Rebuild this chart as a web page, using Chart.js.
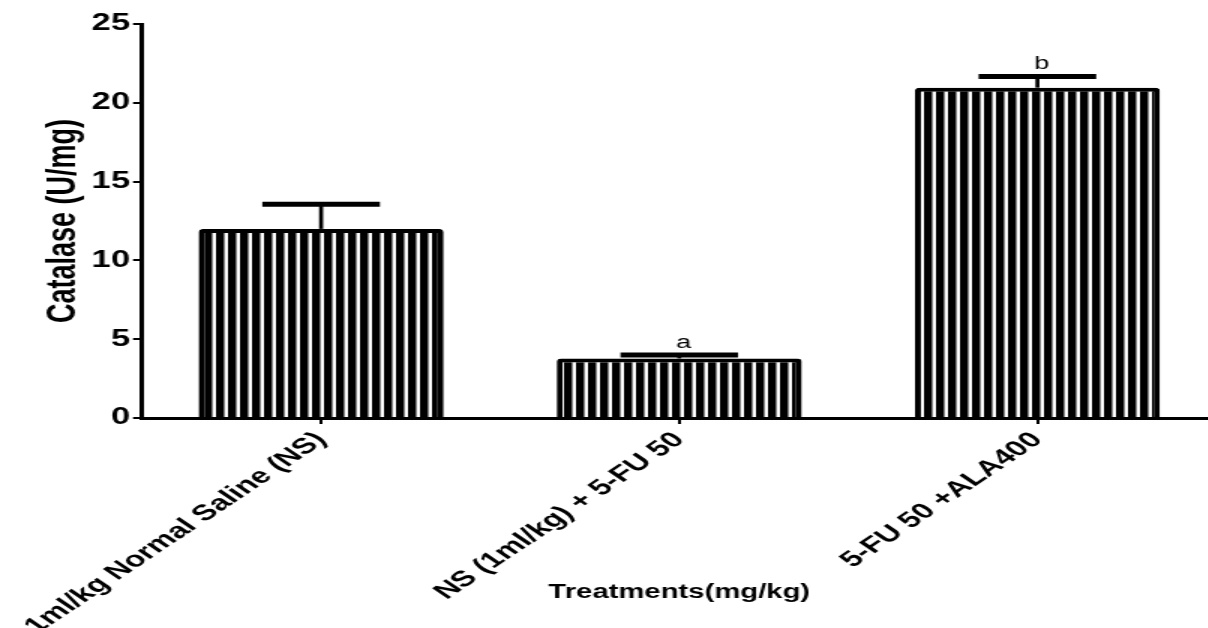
<!DOCTYPE html>
<html>
<head>
<meta charset="utf-8">
<script src="https://cdn.jsdelivr.net/npm/chart.js@4"></script>
<style>
  html, body { margin: 0; padding: 0; background: #fff; overflow: hidden; }
  #wrap { width: 811px; height: 628px; transform: scaleX(1.5); transform-origin: 0 0; }
</style>
</head>
<body>
<div id="wrap"><canvas id="chart" width="811" height="628"></canvas></div>
<script>
// data
var groups = ['1ml/kg Normal Saline (NS)', 'NS (1ml/kg) + 5-FU 50', '5-FU 50 +ALA400'];
var catalase = [12.0, 3.78, 20.96];
var sem = [1.57, 0.22, 0.71];
var letters = ['', 'a', 'b'];
var yTicks = [0, 5, 10, 15, 20, 25];

var FONT = "'Liberation Sans', Arial, sans-serif";

// vertical stripe fill
function stripes() {
    var c = document.createElement('canvas');
    c.width = 8;
    c.height = 4;
    var g = c.getContext('2d');
    g.fillStyle = '#000';
    g.fillRect(0, 0, 8, 4);
    g.fillStyle = '#fff';
    g.fillRect(5.5, 0, 2.5, 4);
    return g.createPattern(c, 'repeat');
}

var errorBars = {
    id: 'errorBars',
    afterDatasetsDraw: function (chart) {
        var ctx = chart.ctx;
        var meta = chart.getDatasetMeta(0);
        var y = chart.scales.y;
        ctx.save();
        ctx.strokeStyle = '#000';
        ctx.fillStyle = '#000';
        meta.data.forEach(function (bar, i) {
            var top = y.getPixelForValue(catalase[i] + sem[i]);
            var half = bar.width * 0.24;
            ctx.lineWidth = 2.7;
            ctx.beginPath();
            ctx.moveTo(bar.x, bar.y);
            ctx.lineTo(bar.x, top);
            ctx.stroke();
            ctx.lineWidth = 5;
            ctx.beginPath();
            ctx.moveTo(bar.x - half, top);
            ctx.lineTo(bar.x + half, top);
            ctx.stroke();
            if (letters[i]) {
                ctx.font = '18px ' + FONT;
                ctx.textAlign = 'center';
                ctx.textBaseline = 'bottom';
                ctx.fillText(letters[i], bar.x + 3, top - 3);
            }
        });
        ctx.restore();
    }
};

var ctx = document.getElementById('chart').getContext('2d');
var chart = new Chart(ctx, {
    type: 'bar',
    data: {
        labels: groups,
        datasets: [{
            data: catalase,
            backgroundColor: stripes(),
            borderColor: '#000',
            borderWidth: 4,
            borderRadius: { topLeft: 3, topRight: 3 },
            barPercentage: 0.684,
            categoryPercentage: 1
        }]
    },
    options: {
        responsive: false,
        animation: false,
        devicePixelRatio: 1,
        layout: { padding: { top: 24, right: 0, left: 0, bottom: 0 } },
        plugins: {
            legend: { display: false },
            tooltip: { enabled: false }
        },
        scales: {
            x: {
                grid: {
                    offset: false,
                    drawOnChartArea: false,
                    drawTicks: true,
                    tickLength: 6,
                    color: '#000',
                    lineWidth: 2
                },
                border: { color: '#000', width: 3 },
                ticks: {
                    color: '#000',
                    minRotation: 45,
                    maxRotation: 45,
                    padding: 3,
                    font: { family: FONT, size: 22, weight: 'bold' }
                },
                title: {
                    display: true,
                    text: 'Treatments(mg/kg)',
                    color: '#000',
                    padding: { top: 0, bottom: 23.3 },
                    font: { family: FONT, size: 19.5, weight: 'bold' }
                },
                afterFit: function (s) {
                    s.height = 210;
                    s.paddingLeft = 0;
                    s.paddingRight = 0;
                }
            },
            y: {
                min: 0,
                max: 25,
                afterBuildTicks: function (s) {
                    s.ticks = yTicks.map(function (v) { return { value: v }; });
                },
                grid: {
                    drawOnChartArea: false,
                    drawTicks: true,
                    tickLength: 6,
                    color: '#000',
                    lineWidth: 2
                },
                border: { color: '#000', width: 3 },
                ticks: {
                    color: '#000',
                    padding: 2,
                    font: { family: FONT, size: 23, weight: 'bold' }
                },
                title: {
                    display: true,
                    text: 'Catalase (U/mg)',
                    color: '#000',
                    padding: { top: 26, bottom: 0 },
                    font: { family: FONT, size: 27, weight: 'bold' }
                },
                afterFit: function (s) {
                    s.width = 94.7;
                }
            }
        }
    },
    plugins: [errorBars]
});
</script>
</body>
</html>
